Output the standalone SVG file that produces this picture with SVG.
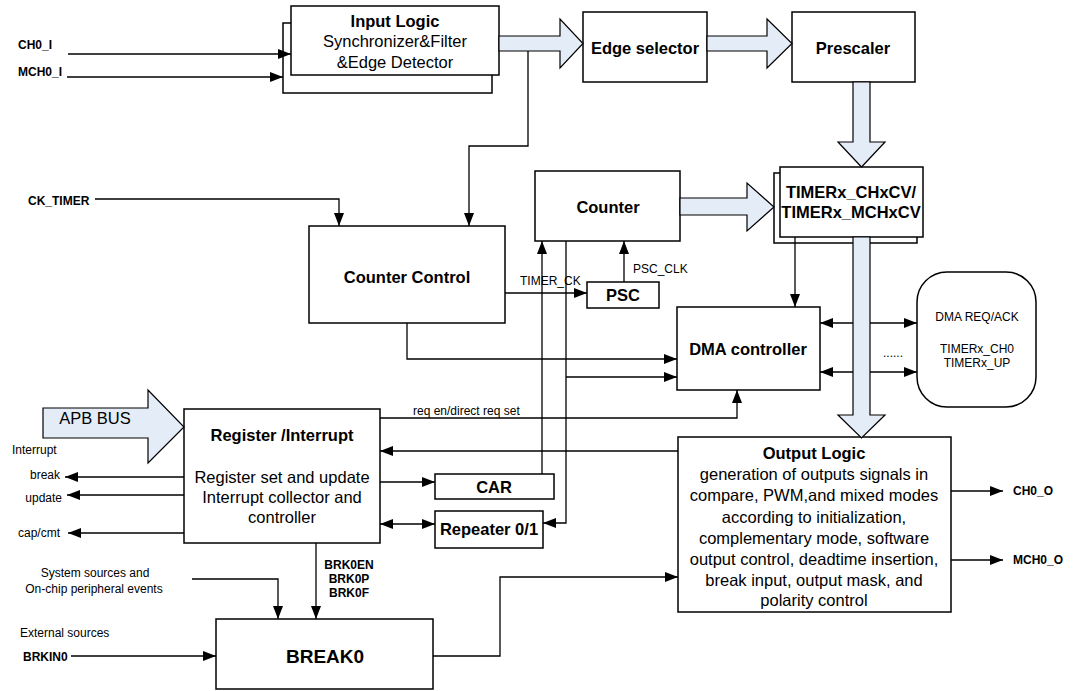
<svg xmlns="http://www.w3.org/2000/svg" width="1073" height="691" viewBox="0 0 1073 691">
<style>
.box{fill:#fff;stroke:#000;stroke-width:1.5}
.ln{fill:none;stroke:#000;stroke-width:1.3}
.fat{fill:#E4ECF7;stroke:#000;stroke-width:1.2}
.b{font-family:"Liberation Sans",Arial,sans-serif;font-weight:bold;font-size:16.5px;text-anchor:middle}
.r{font-family:"Liberation Sans",Arial,sans-serif;font-size:16.5px;text-anchor:middle}
.sb{font-family:"Liberation Sans",Arial,sans-serif;font-weight:bold;font-size:12px}
.sr{font-family:"Liberation Sans",Arial,sans-serif;font-size:12px}
.a{marker-end:url(#ah)}
.aa{marker-end:url(#ah);marker-start:url(#ah)}
</style>
<defs>
<marker id="ah" viewBox="0 0 13 10" refX="13" refY="5" markerWidth="13" markerHeight="10" markerUnits="userSpaceOnUse" orient="auto-start-reverse"><path d="M0,0L13,5L0,10z" fill="#000"/></marker>
</defs>
<rect width="1073" height="691" fill="#fff"/>

<g id="input-logic">
<rect class="box" x="283" y="23" width="209" height="70"/>
<rect class="box" x="291" y="6" width="208" height="69"/>
<text class="b" x="395" y="27">Input Logic</text>
<text class="r" x="395" y="47">Synchronizer&amp;Filter</text>
<text class="r" x="395" y="68">&amp;Edge Detector</text>
</g>
<g id="edge-selector">
<rect class="box" x="583" y="12" width="124" height="70"/>
<text class="b" x="645" y="54">Edge selector</text>
</g>
<g id="prescaler">
<rect class="box" x="792" y="12" width="123" height="70"/>
<text class="b" x="853" y="54">Prescaler</text>
</g>
<g id="counter">
<rect class="box" x="535" y="171" width="145" height="70"/>
<text class="b" x="608" y="213">Counter</text>
</g>
<g id="timerx-chxcv">
<rect class="box" x="774" y="173" width="143" height="70"/>
<rect class="box" x="780" y="167" width="143" height="70"/>
<text class="b" x="851" y="198">TIMERx_CHxCV/</text>
<text class="b" x="851" y="218">TIMERx_MCHxCV</text>
</g>
<g id="counter-control">
<rect class="box" x="309" y="226" width="196" height="97"/>
<text class="b" x="407" y="283">Counter Control</text>
</g>
<g id="psc">
<rect class="box" x="587" y="282" width="72" height="26"/>
<text class="b" x="623" y="301">PSC</text>
</g>
<g id="dma-controller">
<rect class="box" x="677" y="307" width="143" height="83"/>
<text class="b" x="748" y="355">DMA controller</text>
</g>
<g id="dma-req">
<rect class="box" x="917" y="272" width="119" height="135" rx="30" ry="30"/>
<text class="sr" x="977" y="321" text-anchor="middle">DMA REQ/ACK</text>
<text class="sr" x="977" y="353" text-anchor="middle">TIMERx_CH0</text>
<text class="sr" x="977" y="367" text-anchor="middle">TIMERx_UP</text>
</g>
<g id="register-interrupt">
<rect class="box" x="184" y="409" width="196" height="134"/>
<text class="b" x="282" y="441">Register /Interrupt</text>
<text class="r" x="282" y="483">Register set and update</text>
<text class="r" x="282" y="503">Interrupt collector  and</text>
<text class="r" x="282" y="523">controller</text>
</g>
<g id="car">
<rect class="box" x="435" y="474" width="119" height="25"/>
<text class="b" x="494" y="493">CAR</text>
</g>
<g id="repeater">
<rect class="box" x="435" y="511" width="108" height="37"/>
<text class="b" x="489" y="535">Repeater 0/1</text>
</g>
<g id="output-logic">
<rect class="box" x="678" y="437" width="273" height="175"/>
<text class="b" x="814" y="459">Output Logic</text>
<text class="r" x="814" y="480">generation of outputs signals in</text>
<text class="r" x="814" y="501">compare, PWM,and mixed modes</text>
<text class="r" x="814" y="523">according to initialization,</text>
<text class="r" x="814" y="544">complementary mode,  software</text>
<text class="r" x="814" y="565">output control, deadtime insertion,</text>
<text class="r" x="814" y="586">break input, output mask, and</text>
<text class="r" x="814" y="606">polarity control</text>
</g>
<g id="break0">
<rect class="box" x="216" y="619" width="217" height="70"/>
<text class="b" x="325" y="663" style="font-size:19px">BREAK0</text>
</g>

<g id="labels">
<text class="sb" x="18" y="49">CH0_I</text>
<text class="sb" x="18" y="76">MCH0_I</text>
<text class="sb" x="28" y="205">CK_TIMER</text>
<text class="sr" x="520" y="285">TIMER_CK</text>
<text class="sr" x="633" y="273">PSC_CLK</text>
<text class="sr" x="413" y="415">req en/direct req set</text>
<text class="sr" x="893" y="357" text-anchor="middle">......</text>
<text class="sr" x="12" y="454">Interrupt</text>
<text class="sr" x="60" y="479" text-anchor="end">break</text>
<text class="sr" x="62" y="502" text-anchor="end">update</text>
<text class="sr" x="60" y="537" text-anchor="end">cap/cmt</text>
<text class="sb" x="1013" y="495">CH0_O</text>
<text class="sb" x="1013" y="564">MCH0_O</text>
<text class="sr" x="95" y="577" text-anchor="middle">System sources and</text>
<text class="sr" x="94" y="593" text-anchor="middle">On-chip peripheral events</text>
<text class="sr" x="20" y="637">External sources</text>
<text class="sb" x="23" y="661">BRKIN0</text>
<text class="sb" x="349" y="569" text-anchor="middle">BRK0EN</text>
<text class="sb" x="349" y="583" text-anchor="middle">BRK0P</text>
<text class="sb" x="349" y="597" text-anchor="middle">BRK0F</text>
</g>

<g id="connectors">
<path class="ln a" d="M68,54H291"/>
<path class="ln a" d="M67,77H283"/>
<path class="ln a" d="M528,51V146H469V226"/>
<path class="ln a" d="M95,199H339V226"/>
<path class="ln a" d="M505,293H587"/>
<path class="ln a" d="M624,282V241"/>
<path class="ln a" d="M542,474V241"/>
<path class="ln a" d="M566,241V523H543"/>
<path class="ln a" d="M566,377H677"/>
<path class="ln a" d="M407,323V359H677"/>
<path class="ln a" d="M795,237V307"/>
<path class="ln aa" d="M820,323H917"/>
<path class="ln aa" d="M820,372H917"/>
<path class="ln a" d="M380,418H737V390"/>
<path class="ln a" d="M678,451H380"/>
<path class="ln a" d="M380,482H435"/>
<path class="ln aa" d="M380,524H435"/>
<path class="ln a" d="M184,477H65"/>
<path class="ln a" d="M184,495H67"/>
<path class="ln a" d="M184,533H68"/>
<path class="ln a" d="M951,491H1003"/>
<path class="ln a" d="M951,560H1003"/>
<path class="ln a" d="M316,543V619"/>
<path class="ln a" d="M192,579H278V619"/>
<path class="ln a" d="M71,656H216"/>
<path class="ln a" d="M433,656H500V577H678"/>
<polygon class="fat" points="499,36 560,36 560,19 583,43.5 560,68 560,51 499,51"/>
<polygon class="fat" points="707,36 767,36 767,19 792,43.5 767,68 767,51 707,51"/>
<polygon class="fat" points="680,198 747,198 747,183 774,207 747,231 747,215 680,215"/>
<polygon class="fat" points="853,82 853,142 838,142 861.5,167 885,142 870,142 870,82"/>
<polygon class="fat" points="853,237 853,415 838,415 861.5,438 885,415 870,415 870,237"/>
<polygon class="fat" points="43,408 148,408 148,390 184,427 148,463 148,438 43,438"/>
<text class="r" x="95" y="424">APB BUS</text>
</g>
</svg>
